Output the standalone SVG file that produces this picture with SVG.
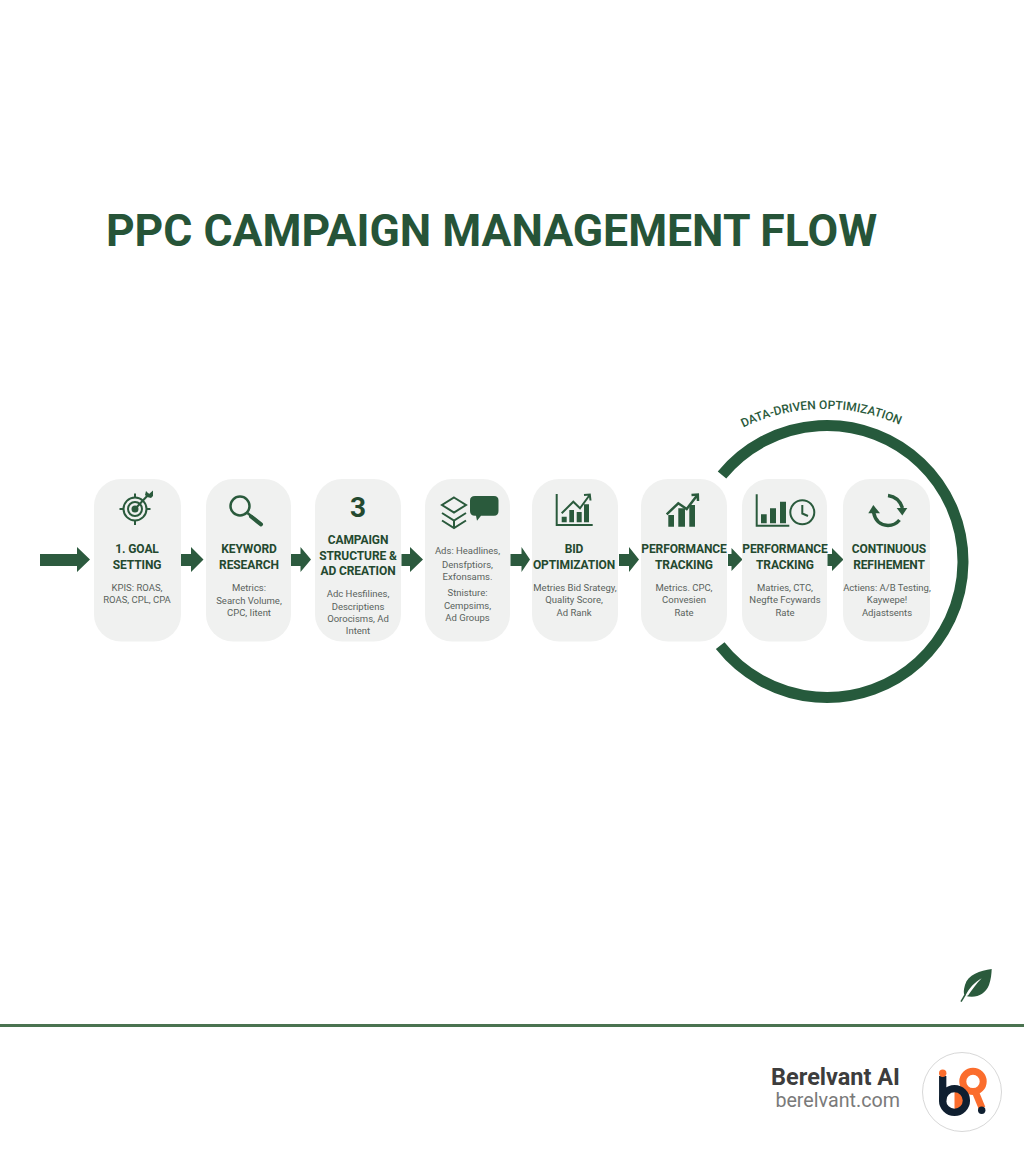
<svg xmlns="http://www.w3.org/2000/svg" width="1024" height="1154" viewBox="0 0 1024 1154">
<style>
text{font-family:Roboto,"Liberation Sans",sans-serif;text-anchor:middle}
.card{fill:#f0f1f0}
.t{font-size:12px;font-weight:700;fill:#24492f;letter-spacing:-.1px}
.b{font-size:9.500px;fill:#5a635d}
.ar{fill:#2c5a3e}
.ic{fill:none;stroke:#2a5a3c;stroke-width:2}
.if{fill:#2a5a3c}
</style>
<rect width="1024" height="1154" fill="#fff"/>
<text id="title" x="491.500" y="245.500" style="font-size:44.500px;font-weight:700;fill:#265438">PPC CAMPAIGN MANAGEMENT FLOW</text>

<g id="ring">
<path d="M722 475A136 136 0 1 1 720.200 645.700" fill="none" stroke="#265a3c" stroke-width="11"/>
<path id="ringText" d="M733 433A185 185 0 0 1 910 430" fill="none"/>
<text style="font-size:12px;font-weight:500;fill:#2a5a3c"><textPath href="#ringText" startOffset="50%">DATA-DRIVEN OPTIMIZATION</textPath></text>
</g>

<g id="connectors">
<polygon class="ar" points="40,554 77,554 77,547 90,559.500 77,572 77,566 40,566"/>
<polygon class="ar" points="181,554 191,554 191,547 203.500,559.500 191,572 191,566 181,566"/>
<polygon class="ar" points="291,554 300.500,554 300.500,547 311,559.500 300.500,572 300.500,566 291,566"/>
<polygon class="ar" points="401.500,554 410,554 410,547 423,559.500 410,572 410,566 401.500,566"/>
<polygon class="ar" points="510.500,554 521.500,554 521.500,547 530,559.500 521.500,572 521.500,566 510.500,566"/>
<polygon class="ar" points="619,554 629,554 629,547 639,559.500 629,572 629,566 619,566"/>
<polygon class="ar" points="728,554 731.500,554 731.500,548 742.500,559.500 731.500,571 731.500,566 728,566"/>
<polygon class="ar" points="827.500,554 832,554 832,548 843.500,559.500 832,571 832,566 827.500,566"/>
</g>

<g id="node1">
<rect class="card" x="94" y="479" width="87" height="162.500" rx="27"/>
<g class="ic"><circle cx="135" cy="509" r="11.500"/><circle cx="135" cy="509" r="7"/><circle cx="135" cy="509" r="2.500" class="if"/>
<path d="M135 493.500V498M135 520V525M119.500 509H124M146 509H150.500M135 509L149 494"/></g>
<polygon class="if" points="146,491 149,494 153,490.500 153,496 151,498 147,497 145,495"/>
<text class="t" x="137" y="553">1. GOAL</text><text class="t" x="137" y="568.500">SETTING</text>
<text class="b" x="137" y="591">KPIS: ROAS,</text><text class="b" x="137" y="603">ROAS, CPL, CPA</text>
</g>

<g id="node2">
<rect class="card" x="206" y="479" width="85" height="162.500" rx="27"/>
<circle class="ic" cx="240" cy="506" r="9.500" style="stroke-width:2.500"/>
<path d="M247.500 513L261 524.300" fill="none" stroke="#2a5a3c" stroke-width="2.500"/>
<path d="M251 516.500L261 524.300" fill="none" stroke="#2a5a3c" stroke-width="4" stroke-linecap="round"/>
<text class="t" x="249" y="553">KEYWORD</text><text class="t" x="249" y="568.500">RESEARCH</text>
<text class="b" x="249" y="591">Metrics:</text><text class="b" x="249" y="603.500">Search Volume,</text><text class="b" x="249" y="616">CPC, Iitent</text>
</g>

<g id="node3">
<rect class="card" x="315" y="479" width="86" height="162.500" rx="27"/>
<text x="358" y="517" style="font-size:28px;font-weight:700;fill:#24492f">3</text>
<text class="t" x="358" y="544">CAMPAIGN</text><text class="t" x="358" y="560">STRUCTURE &amp;</text><text class="t" x="358" y="575">AD CREATION</text>
<text class="b" x="358" y="597">Adc Hesfilines,</text><text class="b" x="358" y="610">Descriptiens</text><text class="b" x="358" y="622">Oorocisms, Ad</text><text class="b" x="358" y="634">Intent</text>
</g>

<g id="node4">
<rect class="card" x="425" y="479" width="85" height="162.500" rx="27"/>
<g class="ic"><polygon points="454,497.500 466,505 454,512.500 442,505"/><path d="M442 513L454 520.500L466 513M442 520.500L454 528L466 520.500M454 520.500V528"/></g>
<path class="if" d="M475 496H494Q498.500 496 498.500 500.500V511Q498.500 515.700 494 515.700H481L477 520.700L476 515.700H475Q470 515.700 470 511V500.500Q470 496 475 496Z"/>
<text class="b" x="467.500" y="554">Ads: Headlines,</text><text class="b" x="467.500" y="567.500">Densfptiors,</text><text class="b" x="467.500" y="580">Exfonsams.</text>
<text class="b" x="467.500" y="596">Stnisture:</text><text class="b" x="467.500" y="609">Cempsims,</text><text class="b" x="467.500" y="621">Ad Groups</text>
</g>

<g id="node5">
<rect class="card" x="532" y="479" width="86" height="162.500" rx="27"/>
<path class="ic" d="M556.700 494V525H592.700"/>
<path class="if" d="M561.700 516.700h5v5.600h-5zM569.300 510h4.700v12.300h-4.700zM576.700 512h5v10.300h-5zM584 504.300h5v18h-5z"/>
<path class="ic" d="M561.700 513.300L573.300 501.700L580 508.300L589.300 495.500M584 495L589.800 494.500L590.500 500.500"/>
<text class="t" x="574" y="553">BID</text><text class="t" x="574" y="568.500">OPTIMIZATION</text>
<text class="b" x="575" y="591">Metries Bid Srategy,</text><text class="b" x="574" y="603">Quality Score,</text><text class="b" x="574" y="616">Ad Rank</text>
</g>

<g id="node6">
<rect class="card" x="641" y="479" width="86" height="162.500" rx="27"/>
<path class="if" d="M668.300 515h5.700v11.700h-5.700zM678.300 508.300h6.700v18.400h-6.700zM689.300 505h5.700v21.700h-5.700z"/>
<path class="ic" style="stroke-width:2.500" d="M666.700 514.300L678.300 503.300L686.700 509L697 495.500M691.500 495L697.800 494.500L698 501"/>
<text class="t" x="684" y="553">PERFORMANCE</text><text class="t" x="684" y="568.500">TRACKING</text>
<text class="b" x="684" y="591">Metrics. CPC,</text><text class="b" x="684" y="603">Convesien</text><text class="b" x="684" y="616">Rate</text>
</g>

<g id="node7">
<rect class="card" x="742" y="479" width="85" height="162.500" rx="27"/>
<path class="ic" d="M756.700 494.300V525.700H789.300"/>
<path class="if" d="M761 514.300h5.700v9h-5.700zM770 508.300h6v15h-6zM780 501.700h6v21.600h-6z"/>
<circle class="ic" cx="802.300" cy="512.300" r="12"/>
<path class="ic" d="M802.300 505V513.500L808 516"/>
<text class="t" x="785" y="553">PERFORMANCE</text><text class="t" x="785" y="568.500">TRACKING</text>
<text class="b" x="785" y="591">Matries, CTC,</text><text class="b" x="785" y="603">Negfte  Fcywards</text><text class="b" x="785" y="616">Rate</text>
</g>

<g id="node8">
<rect class="card" x="843" y="479" width="87" height="162.500" rx="27"/>
<path class="ic" style="stroke-width:3.500" d="M888 495.500Q899 497 902.500 508M873.500 512Q876 525 888 525.500Q895 525.500 899.500 520"/>
<polygon class="if" points="896.700,508 907.300,508 902.300,515.500"/>
<polygon class="if" points="868.300,513.300 880,513.300 873.300,505"/>
<text class="t" x="889" y="553">CONTINUOUS</text><text class="t" x="889" y="568.500">REFIHEMENT</text>
<text class="b" x="887" y="591">Actiens: A/B Testing,</text><text class="b" x="887" y="603">Kaywepe!</text><text class="b" x="887" y="616">Adjastsents</text>
</g>

<g id="leaf">
<path d="M991.700 969C980 971 968 974 965 985C963.500 990 963.500 993 964.500 995.500C975 999 985 995 989 985C991 979 991.500 974 991.700 969Z" fill="#2a5a3c"/>
<path d="M965 996.500C969 988 975 982 981.700 978.300C976 984 972 990 968 995.500Z" fill="#fff"/>
<path d="M965 995L961 1001.700" stroke="#2a5a3c" stroke-width="1.500" fill="none"/>
</g>

<g id="footer">
<rect x="0" y="1024" width="1024" height="3" fill="#4a7350"/>
<text x="900" y="1085" style="text-anchor:end;font-size:23.500px;font-weight:700;fill:#3d3d3d">Berelvant AI</text>
<text x="900" y="1107" style="text-anchor:end;font-size:19.700px;fill:#7a7a7a">berelvant.com</text>
</g>

<g id="logo">
<circle cx="962" cy="1092" r="39.500" fill="#fff" stroke="#d8d8d8"/>
<circle cx="973" cy="1081.400" r="10.200" fill="none" stroke="#fb6d2d" stroke-width="7"/>
<path d="M975 1091L982 1108" stroke="#fb6d2d" stroke-width="7" fill="none"/>
<path d="M954.500 1088.600a11.900 11.900 0 0 1 0 23.800z" fill="#fb6d2d"/>
<circle cx="954.500" cy="1100.500" r="11.900" fill="none" stroke="#0f1f30" stroke-width="7.300"/>
<path d="M942.700 1076V1101" stroke="#0f1f30" stroke-width="7.300" fill="none"/>
<circle cx="942.700" cy="1073.300" r="3.700" fill="#fb6d2d"/>
<circle cx="981.700" cy="1110.300" r="3.700" fill="#0f1f30"/>
</g>
</svg>
